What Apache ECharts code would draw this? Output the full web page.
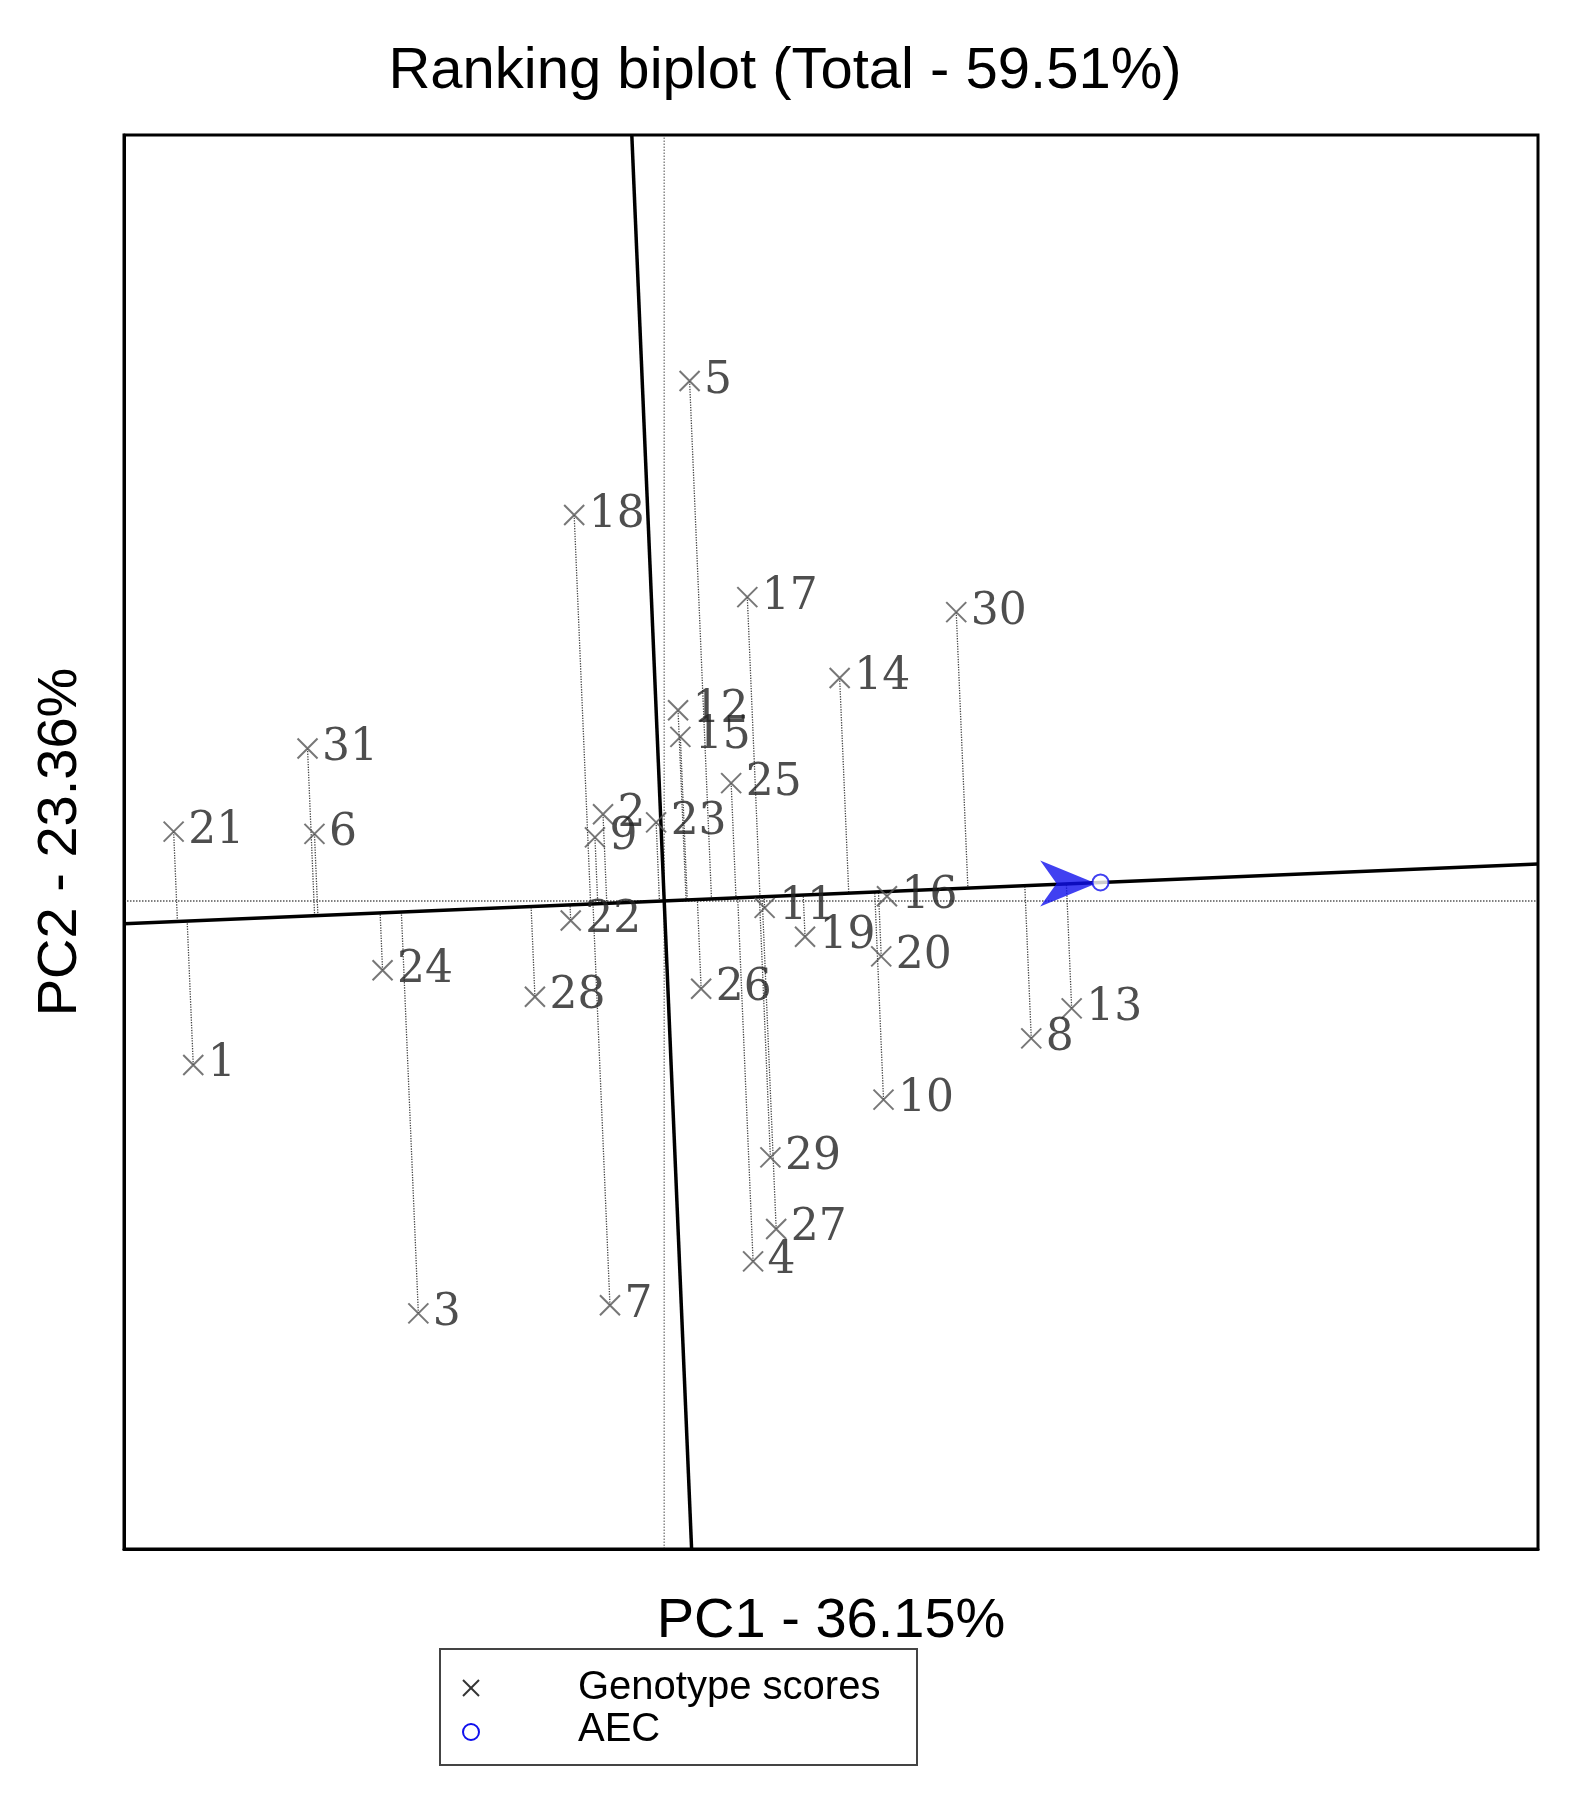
<!DOCTYPE html>
<html><head><meta charset="utf-8">
<script src="https://cdn.jsdelivr.net/npm/echarts@6/dist/echarts.min.js"></script>
<style>html,body{margin:0;padding:0;background:#fff}#c{width:1570px;height:1815px}</style>
</head><body><div id="c"></div>
<script>
// genotype scores (PC1, PC2)
var labels = ['1','2','3','4','5','6','7','8','9','10','11','12','13','14','15','16','17','18','19','20','21','22','23','24','25','26','27','28','29','30','31'];
var pc1 = [-4.08,-0.53,-2.13,0.77,0.22,-3.03,-0.47,3.18,-0.60,1.90,0.87,0.12,3.53,1.52,0.14,1.93,0.72,-0.78,1.22,1.88,-4.25,-0.81,-0.07,-2.44,0.58,0.32,0.97,-1.12,0.92,2.53,-3.09];
var pc2 = [-1.42,0.75,-3.57,-3.12,4.50,0.58,-3.50,-1.19,0.55,-1.72,-0.06,1.65,-0.93,1.93,1.42,0.04,2.63,3.34,-0.31,-0.48,0.60,-0.17,0.68,-0.60,1.02,-0.76,-2.84,-0.83,-2.22,2.50,1.32];
var aec = [3.78, 0.16];
var xRange = [-4.68, 7.57], yRange = [-5.61, 6.63];

var chart = echarts.init(document.getElementById('c'));
var len = Math.sqrt(aec[0]*aec[0]+aec[1]*aec[1]);
var dx = aec[0]/len, dy = aec[1]/len;
function proj(x,y){ var t = x*dx+y*dy; return [t*dx, t*dy]; }
var cross = 'path://M0,0L10,10M10,0L0,10';
var series = [];
// dotted reference lines through origin
series.push({type:'line', data:[[0,yRange[0]],[0,yRange[1]]], symbol:'none', lineStyle:{color:'#888',width:1.5,type:'dotted'}, z:1});
series.push({type:'line', data:[[xRange[0],0],[xRange[1],0]], symbol:'none', lineStyle:{color:'#555',width:1.5,type:'dotted'}, z:1});
// projections
pc1.forEach(function(x,i){
  series.push({type:'line', data:[[x,pc2[i]], proj(x,pc2[i])], symbol:'none', lineStyle:{color:'#444',width:1.3,type:'dotted'}, z:2});
});
// AEC axis and perpendicular
var a0 = xRange[0]/dx, a1 = xRange[1]/dx;
series.push({type:'line', data:[[a0*dx,a0*dy],[a1*dx,a1*dy]], symbol:'none', lineStyle:{color:'#000',width:3.5}, z:3});
var b0 = yRange[0]/dx, b1 = yRange[1]/dx;
series.push({type:'line', data:[[-b0*dy,b0*dx],[-b1*dy,b1*dx]], symbol:'none', lineStyle:{color:'#000',width:3.5}, z:3});
series.push({type:'scatter', data:pc1.map(function(x,i){return [x,pc2[i],labels[i]];}),
  symbol:cross, symbolSize:20, itemStyle:{color:'none',borderColor:'#555',borderWidth:2}, z:5,
  label:{show:true, position:'right', distance:2, formatter:function(p){return p.value[2];}, fontFamily:'DejaVu Serif', fontSize:44, color:'#222'}});
series.push({type:'scatter', data:[[aec[0]-0.28, aec[1]-0.01]], symbol:'path://M0,0L24,10L0,20L7,10Z', symbolSize:[56,46], itemStyle:{color:'#1010ee'}, z:6});
series.push({type:'scatter', data:[aec], symbol:'circle', symbolSize:16, itemStyle:{color:'#fff',borderColor:'#1010ee',borderWidth:2}, z:7});

chart.setOption({
  animation:false,
  title:{text:'Ranking biplot (Total - 59.51%)', left:'center', top:38, textStyle:{fontFamily:'Liberation Sans', fontSize:58, fontWeight:'normal', color:'#000'}},
  grid:{left:124, right:32, top:135, bottom:266},
  xAxis:{type:'value', min:xRange[0], max:xRange[1], name:'PC1 - 36.15%', nameLocation:'middle', nameGap:45,
    nameTextStyle:{fontFamily:'Liberation Sans', fontSize:56, color:'#000'},
    axisLine:{onZero:false,lineStyle:{color:'#000',width:3}}, axisTick:{show:false}, axisLabel:{show:false}, splitLine:{show:false}},
  yAxis:{type:'value', min:yRange[0], max:yRange[1], name:'PC2 - 23.36%', nameLocation:'middle', nameGap:35,
    nameTextStyle:{fontFamily:'Liberation Sans', fontSize:56, color:'#000'},
    axisLine:{onZero:false,lineStyle:{color:'#000',width:3}}, axisTick:{show:false}, axisLabel:{show:false}, splitLine:{show:false}},
  graphic:[
    {type:'rect', shape:{x:124,y:135,width:1414,height:1414}, style:{fill:'none',stroke:'#000',lineWidth:3}, z:10},
    {type:'rect', shape:{x:440,y:1649,width:477,height:116}, style:{fill:'#fff',stroke:'#444',lineWidth:2}},
    {type:'line', shape:{x1:463,y1:1680,x2:479,y2:1696}, style:{stroke:'#333',lineWidth:2}},
    {type:'line', shape:{x1:479,y1:1680,x2:463,y2:1696}, style:{stroke:'#333',lineWidth:2}},
    {type:'circle', shape:{cx:471,cy:1732,r:8}, style:{fill:'none',stroke:'#1010ee',lineWidth:2}},
    {type:'text', style:{x:578,y:1688,text:'Genotype scores',font:'40px "Liberation Sans"',fill:'#000',verticalAlign:'middle'}},
    {type:'text', style:{x:578,y:1730,text:'AEC',font:'40px "Liberation Sans"',fill:'#000',verticalAlign:'middle'}}
  ],
  series:series
});
</script></body></html>
